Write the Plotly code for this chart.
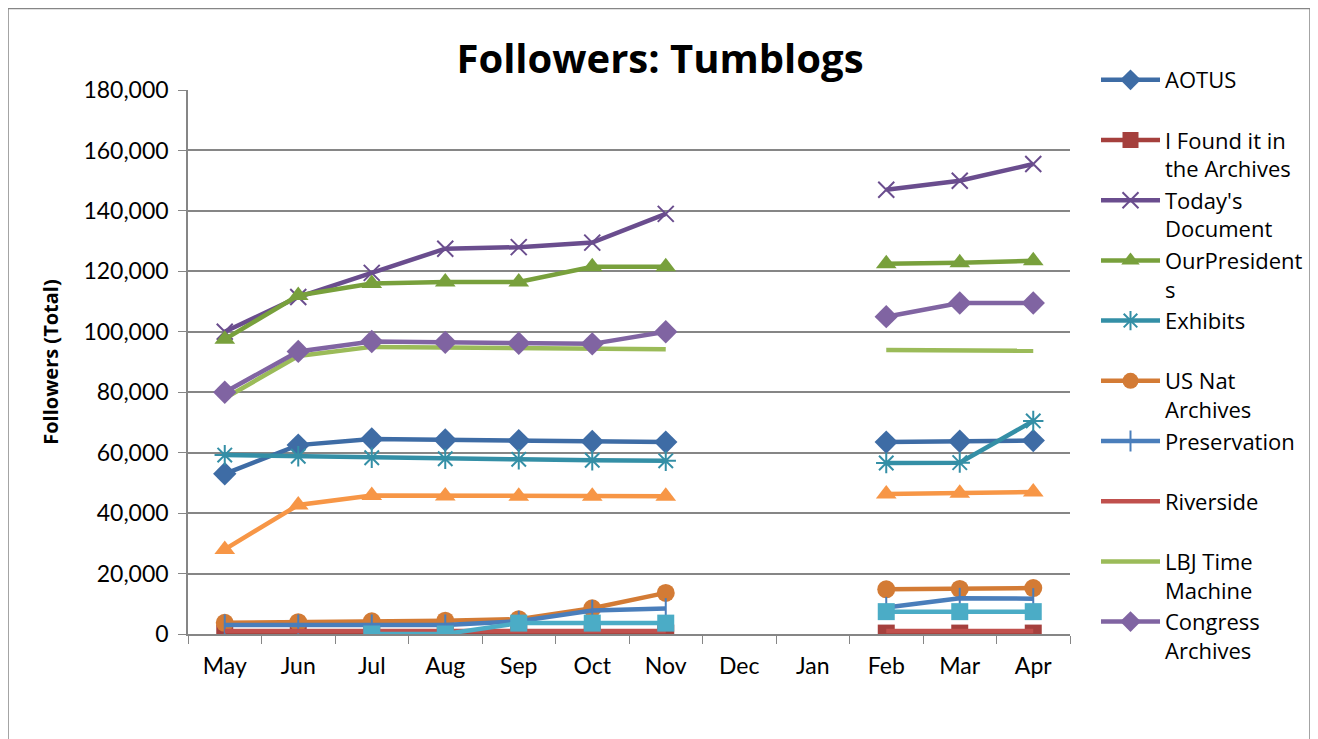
import plotly.graph_objects as go

months = ["May", "Jun", "Jul", "Aug", "Sep", "Oct", "Nov", "Dec", "Jan", "Feb", "Mar", "Apr"]
N = None

aotus = [53000, 62500, 64500, 64200, 64000, 63700, 63500, N, N, 63500, 63800, 64000]
i_found = [300, 300, 300, 300, 300, 300, 300, N, N, 300, 300, 300]
todays_doc = [100000, 111500, 119500, 127500, 128000, 129500, 139000, N, N, 147000, 150000, 155500]
our_presidents = [97500, 112000, 116000, 116500, 116500, 121500, 121500, N, N, 122500, 122800, 123500]
exhibits = [59200, 58800, 58300, 58000, 57800, 57500, 57300, N, N, 56600, 56700, 70500]
us_nat = [3700, 3900, 4200, 4400, 4900, 8500, 13600, N, N, 14800, 14900, 15200]
preservation = [3000, 3000, 3000, 3000, 4200, 7800, 8400, N, N, 8800, 11800, 11700]
riverside = [1000, 1000, 1000, 1000, 1000, 1000, 1000, N, N, 1000, 1000, 1000]
lbj = [78000, 92000, 95000, 94800, 94600, 94300, 94200, N, N, 94000, 94000, 93700]
congress = [80000, 93500, 96800, 96500, 96200, 96000, 100000, N, N, 105000, 109500, 109500]
series_11 = [28000, 42700, 45800, 45700, 45600, 45600, 45600, N, N, 46300, 46600, 47000]
series_12 = [N, N, 0, 0, 3600, 3600, 3600, N, N, 7400, 7400, 7400]

y_ticks = [0, 20000, 40000, 60000, 80000, 100000, 120000, 140000, 160000, 180000]

FONT = "Lato"
WIDE = "Open Sans"
NB = "\u00a0"

series = [
    ("AOTUS" + "<br>" + NB, aotus, "#3E6CA5", "diamond", 18, True),
    ("I Found it in<br>the Archives", i_found, "#A5403D", "square", 17, True),
    ("Today's<br>Document", todays_doc, "#6A4D8E", "x-thin", 16, True),
    ("OurPresident<br>s", our_presidents, "#78A03C", "triangle-up", 18, True),
    ("Exhibits" + "<br>" + NB, exhibits, "#348FA6", "asterisk", 17, True),
    ("US Nat<br>Archives", us_nat, "#D37B35", "circle", 18, True),
    ("Preservation" + "<br>" + NB, preservation, "#4A7EBB", "line-ns", 15, True),
    ("Riverside" + "<br>" + NB, riverside, "#C0504D", None, 0, True),
    ("LBJ Time<br>Machine", lbj, "#9BBB59", None, 0, True),
    ("Congress<br>Archives", congress, "#8064A2", "diamond", 18, True),
    ("Series 11", series_11, "#F79646", "triangle-up", 18, False),
    ("Series 12", series_12, "#4BACC6", "square", 17, False),
]

fig = go.Figure()
for name, vals, color, sym, size, show in series:
    if sym is None:
        mode = "lines"
        marker = None
    else:
        mode = "lines+markers"
        marker = dict(symbol=sym, size=size, color=color,
                      line=dict(color=color, width=2 if sym in ("x-thin", "asterisk", "line-ns") else 0))
    fig.add_trace(go.Scatter(
        x=months, y=vals, name=name, mode=mode,
        line=dict(color=color, width=4.5),
        marker=marker, showlegend=show, connectgaps=False,
    ))

# page has an 8px body margin: figure origin is at page (8, 8)
L, T, PW, PH = 180, 82, 882, 544
W, H = 1310, 731

fig.update_layout(
    width=W, height=H,
    paper_bgcolor="white", plot_bgcolor="white",
    margin=dict(l=L, r=W - L - PW, t=T, b=H - T - PH, autoexpand=False),
    font=dict(family=FONT, size=22, color="black"),
    title=dict(text="<b>Followers: Tumblogs</b>", x=(660 - 8) / W, xanchor="center",
               y=1 - (59 - 8) / H, yanchor="middle", font=dict(size=40, family=WIDE)),
    xaxis=dict(type="category", categoryorder="array", categoryarray=months,
               range=[-0.5, 11.5], showgrid=False, showline=True, linecolor="#868686",
               linewidth=1.5, ticks="outside", tickson="boundaries", ticklen=8,
               tickcolor="#868686", tickfont=dict(size=23, family=FONT), zeroline=False,
               ticklabelstandoff=11),
    yaxis=dict(range=[0, 180000], tickvals=y_ticks, tickformat=",", showgrid=True,
               gridcolor="#868686", gridwidth=1.5, showline=True, linecolor="#868686",
               linewidth=1.5, ticks="outside", ticklen=8, tickcolor="#868686",
               tickfont=dict(size=23, family=FONT), zeroline=False, ticklabelstandoff=5,
               title=dict(text="<b>Followers (Total)</b>", font=dict(size=20, family=WIDE),
                          standoff=19)),
    legend=dict(x=(1088 - L) / PW, xanchor="left", y=(T + PH - 51) / PH, yanchor="top",
                valign="top", font=dict(size=22, family=WIDE), bgcolor="rgba(0,0,0,0)",
                tracegroupgap=0, itemwidth=59, maxheight=720),
    shapes=[dict(type="rect", xref="paper", yref="paper",
                 x0=(0 - L) / PW, x1=(1302 - L) / PW,
                 y0=-(H + 20 - T - PH) / PH, y1=(T + PH - 0.5) / PH,
                 line=dict(color="#868686", width=1.5), fillcolor="rgba(0,0,0,0)", layer="below")],
)

fig.write_html("out.html")
